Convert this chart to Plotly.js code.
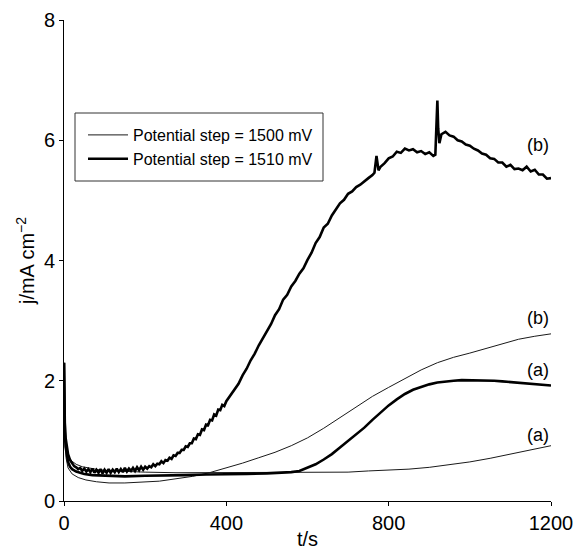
<!DOCTYPE html>
<html>
<head>
<meta charset="utf-8">
<script src="https://cdn.plot.ly/plotly-3.0.1.min.js"></script>
<style>html,body{margin:0;padding:0;background:#fff;}#chart{width:576px;height:550px;}</style>
</head>
<body>
<div id="chart"></div>
<script>
// Potential step = 1510 mV, curve (b)
var tThickB = [0,1,2,4,6,8,10,15,20,25,30,35,40,45,50,55,60,65,70,75,80,85,90,95,100,105,110,115,120,125,130,135,140,145,150,155,160,165,170,175,180,185,190,195,200,205,210,215,220,225,230,235,240,245,250,255,260,265,270,275,280,285,290,295,300,305,310,315,320,325,330,335,340,345,350,355,360,365,370,375,380,385,390,395,400,410,420,430,440,450,460,470,480,490,500,510,520,530,540,550,560,570,580,590,600,610,620,630,640,650,660,670,680,690,700,710,720,730,740,750,760,765,770,775,780,790,800,810,820,830,840,850,860,870,880,890,900,910,915,918,920,922,925,930,940,950,960,970,980,990,1000,1010,1020,1030,1040,1050,1060,1070,1080,1090,1100,1110,1120,1130,1140,1150,1160,1170,1180,1190,1200];
var jThickB = [2.3,1.6,1.3,1.05,0.92,0.84,0.78,0.68,0.62,0.58,0.56,0.53,0.55,0.5,0.54,0.49,0.53,0.48,0.54,0.47,0.52,0.47,0.53,0.46,0.52,0.47,0.53,0.47,0.52,0.48,0.54,0.48,0.53,0.48,0.55,0.49,0.54,0.5,0.55,0.5,0.56,0.51,0.57,0.52,0.57,0.54,0.58,0.56,0.61,0.58,0.62,0.61,0.66,0.63,0.68,0.67,0.72,0.7,0.76,0.75,0.8,0.8,0.85,0.85,0.91,0.9,0.96,0.96,1.04,1.03,1.11,1.1,1.19,1.18,1.27,1.26,1.35,1.34,1.44,1.42,1.52,1.51,1.6,1.58,1.66,1.75,1.86,1.95,2.09,2.2,2.34,2.45,2.59,2.7,2.83,2.94,3.09,3.19,3.35,3.43,3.57,3.66,3.78,3.87,4.01,4.13,4.29,4.39,4.55,4.61,4.75,4.85,4.95,5.01,5.11,5.15,5.22,5.26,5.32,5.37,5.42,5.46,5.74,5.5,5.56,5.62,5.7,5.73,5.81,5.79,5.86,5.83,5.85,5.8,5.82,5.77,5.8,5.74,5.76,6.3,6.66,6.2,5.95,6.1,6.14,6.08,6.06,6.0,5.98,5.93,5.91,5.86,5.83,5.78,5.76,5.7,5.69,5.63,5.63,5.56,5.59,5.52,5.53,5.5,5.56,5.48,5.51,5.43,5.43,5.36,5.37];

// Potential step = 1510 mV, curve (a)
var tThickA = [0,1,2,4,6,8,10,15,20,30,40,50,70,100,150,200,250,300,350,400,450,500,540,560,580,600,620,640,660,680,700,720,740,760,780,800,820,840,860,880,900,920,940,960,980,1000,1020,1040,1060,1080,1100,1120,1140,1160,1180,1200];
var jThickA = [2.3,1.5,1.15,0.9,0.78,0.7,0.65,0.57,0.53,0.49,0.47,0.45,0.43,0.42,0.41,0.42,0.42,0.43,0.44,0.44,0.45,0.46,0.47,0.48,0.5,0.55,0.61,0.69,0.78,0.89,1.0,1.11,1.22,1.35,1.47,1.59,1.69,1.78,1.85,1.9,1.94,1.97,1.99,2.0,2.01,2.01,2.01,2.01,2.0,1.99,1.98,1.97,1.96,1.94,1.93,1.92];

// Potential step = 1500 mV, curve (a)
var tThinA = [0,2,5,10,20,30,45,60,86,120,153,200,276,350,450,550,650,700,750,800,850,900,950,1000,1050,1100,1150,1200];
var jThinA = [1.6,1.1,0.85,0.75,0.66,0.61,0.57,0.55,0.52,0.5,0.49,0.48,0.47,0.47,0.47,0.47,0.48,0.48,0.5,0.51,0.53,0.56,0.6,0.65,0.71,0.78,0.85,0.92];

// Potential step = 1500 mV, curve (b)
var tThinB = [0,2,5,10,20,35,54,80,111,150,193,235,276,317,358,400,440,480,520,560,600,640,680,720,760,800,840,880,920,960,1000,1040,1080,1120,1160,1200];
var jThinB = [1.3,0.95,0.72,0.55,0.45,0.39,0.35,0.32,0.3,0.3,0.31,0.33,0.37,0.41,0.47,0.55,0.63,0.72,0.81,0.92,1.05,1.21,1.39,1.57,1.74,1.89,2.04,2.18,2.3,2.39,2.46,2.54,2.62,2.69,2.74,2.78];

var seriesNames = ['Potential step = 1500 mV', 'Potential step = 1510 mV'];
var curveLabels = ['(b)', '(b)', '(a)', '(a)'];
var labelY = [5.92, 3.05, 2.18, 1.1];
var xTicks = [0, 400, 800, 1200];
var yTicks = [0, 2, 4, 6, 8];

var FONT = 'Liberation Sans, Arial, Helvetica, sans-serif';

var traces = [
  {x: tThinA, y: jThinA, mode: 'lines', name: seriesNames[0], legendgroup: 'g1', showlegend: true,
   line: {color: '#1a1a1a', width: 1}},
  {x: tThinB, y: jThinB, mode: 'lines', name: seriesNames[0], legendgroup: 'g1', showlegend: false,
   line: {color: '#1a1a1a', width: 1}},
  {x: tThickA, y: jThickA, mode: 'lines', name: seriesNames[1], legendgroup: 'g2', showlegend: true,
   line: {color: '#000', width: 2.6}},
  {x: tThickB, y: jThickB, mode: 'lines', name: seriesNames[1], legendgroup: 'g2', showlegend: false,
   line: {color: '#000', width: 2.6}}
];

var annotations = curveLabels.map(function(txt, i) {
  return {x: 1200, y: labelY[i], xref: 'x', yref: 'y', text: txt, showarrow: false,
          xanchor: 'right', yanchor: 'middle', font: {family: FONT, size: 18, color: '#000'}};
});

var layout = {
  width: 576, height: 550,
  margin: {l: 64, r: 25, t: 20, b: 49},
  paper_bgcolor: '#fff', plot_bgcolor: '#fff',
  font: {family: FONT, color: '#000', size: 20},
  showlegend: true,
  legend: {x: (83 - 64) / 487, y: (501 - 118) / 481, xanchor: 'left', yanchor: 'top',
           borderwidth: 0, bgcolor: 'rgba(0,0,0,0)', itemwidth: 40,
           font: {family: FONT, size: 16, color: '#000'}, traceorder: 'normal', tracegroupgap: 8},
  shapes: [{type: 'rect', xref: 'paper', yref: 'paper',
            x0: (75 - 64) / 487, x1: (323 - 64) / 487, y0: (501 - 181) / 481, y1: (501 - 113) / 481,
            line: {color: '#333', width: 1}, fillcolor: 'rgba(0,0,0,0)', layer: 'below'}],
  xaxis: {range: [0, 1200], tickvals: xTicks, ticktext: xTicks.map(String),
          showline: true, linecolor: '#000', linewidth: 1, ticks: 'outside', ticklen: 4,
          tickcolor: '#000', showgrid: false, zeroline: false, automargin: false,
          tickfont: {family: FONT, size: 20}, title: {text: 't/s', font: {family: FONT, size: 20}, standoff: 4}},
  yaxis: {range: [0, 8], tickvals: yTicks, ticktext: yTicks.map(String),
          showline: true, linecolor: '#000', linewidth: 1, ticks: 'outside', ticklen: 4,
          tickcolor: '#000', showgrid: false, zeroline: false, automargin: false,
          tickfont: {family: FONT, size: 20},
          title: {text: 'j/mA cm<sup>\u22122</sup>', font: {family: FONT, size: 20}, standoff: 3}},
  annotations: annotations
};

Plotly.newPlot('chart', traces, layout, {displayModeBar: false, staticPlot: true});
</script>
</body>
</html>
